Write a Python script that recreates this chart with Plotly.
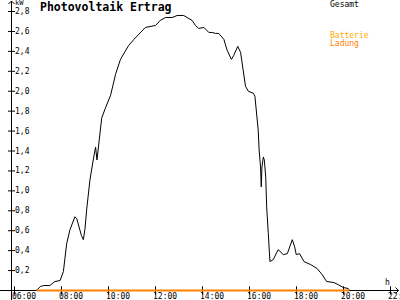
import plotly.graph_objects as go

# ---------------- data ----------------
hours = [6.93, 7.1, 7.25, 7.5, 7.72, 7.94, 8.08, 8.15, 8.22, 8.36, 8.57, 8.65, 8.72, 8.85,
         8.93, 9.0, 9.07, 9.21, 9.35, 9.45, 9.51, 9.57, 9.64, 9.71, 9.85, 10.0, 10.09, 10.3,
         10.51, 10.86, 11.08, 11.57, 12.0, 12.2, 12.43, 12.71, 12.92, 13.2, 13.56, 13.7,
         13.84, 14.06, 14.27, 14.41, 14.55, 14.69, 14.91, 15.05, 15.23, 15.33, 15.5, 15.62,
         15.73, 15.83, 15.95, 16.16, 16.23, 16.3, 16.37, 16.41, 16.47, 16.5, 16.53, 16.59,
         16.63, 16.69, 16.73, 16.8, 16.87, 17.01, 17.22, 17.44, 17.61, 17.82, 17.92, 17.99,
         18.13, 18.32, 18.6, 18.88, 19.09, 19.28, 19.59, 19.8, 19.99, 20.2, 20.25]
gesamt_kw = [0, 0.04, 0.05, 0.05, 0.09, 0.1, 0.19, 0.33, 0.47, 0.61, 0.74, 0.72, 0.66, 0.55,
             0.51, 0.62, 0.81, 1.11, 1.31, 1.44, 1.31, 1.44, 1.61, 1.73, 1.82, 1.92, 1.96, 2.17,
             2.32, 2.46, 2.52, 2.64, 2.66, 2.71, 2.74, 2.74, 2.76, 2.76, 2.71, 2.66,
             2.63, 2.64, 2.59, 2.59, 2.58, 2.58, 2.52, 2.41, 2.32, 2.36, 2.45, 2.39,
             2.21, 2.05, 2.0, 1.98, 1.95, 1.78, 1.61, 1.41, 1.24, 1.04, 1.24, 1.34,
             1.31, 1.14, 0.84, 0.57, 0.29, 0.31, 0.41, 0.36, 0.37, 0.51, 0.44, 0.36,
             0.37, 0.29, 0.26, 0.22, 0.16, 0.09, 0.08, 0.055, 0.03, 0.02, 0]
ladung_kw = [0 for _ in hours]

x_ticks = [6, 8, 10, 12, 14, 16, 18, 20, 22]
x_tick_labels = ["06:00", "08:00", "10:00", "12:00", "14:00", "16:00", "18:00", "20:00", "22:00"]
y_ticks = [0.2, 0.4, 0.6, 0.8, 1.0, 1.2, 1.4, 1.6, 1.8, 2.0, 2.2, 2.4, 2.6, 2.8]
y_tick_labels = ["0,2", "0,4", "0,6", "0,8", "1,0", "1,2", "1,4", "1,6", "1,8", "2,0",
                 "2,2", "2,4", "2,6", "2,8"]

# ---------------- layout geometry ----------------
W, H = 400, 300
X0PX, PXH = 14.5, 23.5      # pixel of 06:00, pixels per hour
Y0PX, PXV = 290.5, 99.64    # pixel of 0 kW, pixels per kW
YAX_PX = 11.5               # pixel column of the y axis line

x_range = [6 - X0PX / PXH, 6 + (W - X0PX) / PXH]
y_range = [-(H - Y0PX) / PXV, Y0PX / PXV]
yax_data_x = 6 + (YAX_PX - X0PX) / PXH


def px(xp):
    return xp / W


def py(yp):
    return 1 - yp / H


MONO = "DejaVu Sans Mono"
BLACK = "#000000"
ORANGE = "#FF8000"
GOLD = "#FFA800"

fig = go.Figure()

# tick marks crossing the axes
fig.add_trace(go.Scatter(
    x=x_ticks, y=[0] * len(x_ticks), mode="markers",
    marker=dict(symbol="line-ns", size=6, line=dict(width=1, color=BLACK)),
    hoverinfo="skip", showlegend=False, cliponaxis=False))
fig.add_trace(go.Scatter(
    x=[yax_data_x] * len(y_ticks), y=y_ticks, mode="markers",
    marker=dict(symbol="line-ew", size=5, line=dict(width=1, color=BLACK)),
    hoverinfo="skip", showlegend=False, cliponaxis=False))

fig.add_trace(go.Scatter(
    x=hours, y=gesamt_kw, mode="lines", name="Gesamt",
    line=dict(color=BLACK, width=1), showlegend=False))
fig.add_trace(go.Scatter(
    x=hours, y=ladung_kw, mode="lines", name="Ladung",
    line=dict(color=ORANGE, width=2), showlegend=False))

shapes = [
    dict(type="line", xref="paper", yref="paper", x0=px(YAX_PX), x1=px(YAX_PX),
         y0=0, y1=py(1), line=dict(color=BLACK, width=1), layer="below"),
    dict(type="line", xref="paper", yref="paper", x0=0, x1=px(398.5),
         y0=py(Y0PX), y1=py(Y0PX), line=dict(color=BLACK, width=1), layer="below"),
    dict(type="path", xref="paper", yref="paper",
         path=f"M {px(8.5)},{py(4)} L {px(YAX_PX)},{py(1)} L {px(14.5)},{py(4)}",
         line=dict(color=BLACK, width=1)),
    dict(type="path", xref="paper", yref="paper",
         path=f"M {px(395.5)},{py(287.5)} L {px(398.5)},{py(Y0PX)} L {px(395.5)},{py(293.5)}",
         line=dict(color=BLACK, width=1)),
]


def label(text, x, y, size=8, color=BLACK, xref="paper", yref="paper",
          xanchor="left", yanchor="top", xshift=0, bold=False):
    return dict(text=f"<b>{text}</b>" if bold else text, x=x, y=y, xref=xref, yref=yref,
                xanchor=xanchor, yanchor=yanchor, xshift=xshift, showarrow=False,
                borderpad=0, font=dict(family=MONO, size=size, color=color))


annotations = [
    label("Photovoltaik Ertrag", px(39), py(-1), size=11.5, bold=True),
    label("kW", px(14), py(-2), size=7),
    label("h", px(384), py(277)),
    label("Gesamt", px(329), py(-1)),
    label("Batterie", px(329), py(30), color=GOLD),
    label("Ladung", px(329), py(38), color=ORANGE),
]
for v, t in zip(x_ticks, x_tick_labels):
    annotations.append(label(t, v, py(291), xref="x", xshift=-4))
for v, t in zip(y_ticks, y_tick_labels):
    annotations.append(label(t, px(14), v, yref="y", yanchor="middle"))

fig.update_layout(
    width=W, height=H, margin=dict(l=0, r=0, t=0, b=0, pad=0),
    paper_bgcolor="white", plot_bgcolor="white",
    showlegend=False,
    shapes=shapes, annotations=annotations,
    xaxis=dict(range=x_range, domain=[0, 1], visible=False, fixedrange=True),
    yaxis=dict(range=y_range, domain=[0, 1], visible=False, fixedrange=True),
)

fig.write_html("out.html", config={"displayModeBar": False})
